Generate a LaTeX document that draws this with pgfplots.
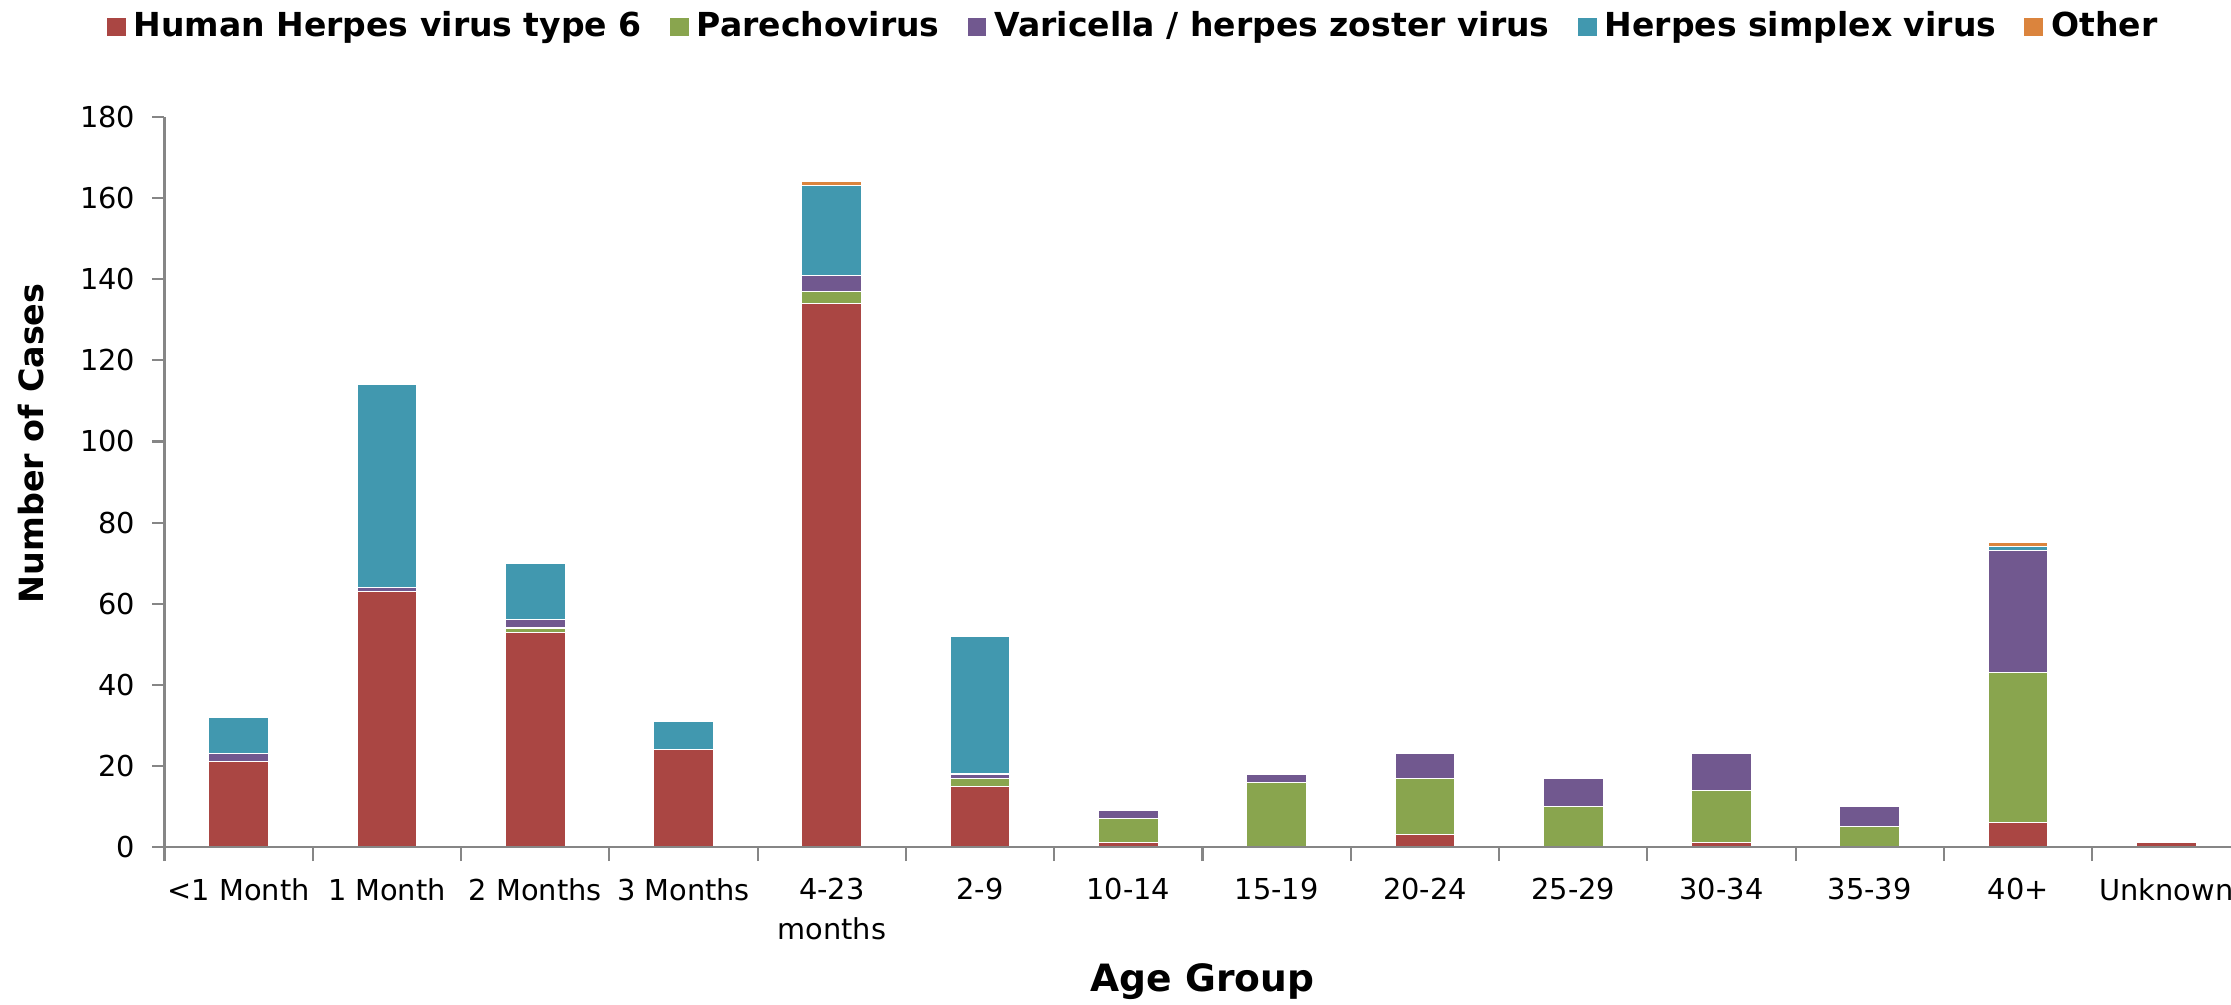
\documentclass[border=0pt]{standalone}
\usepackage{fontspec}
\setmainfont{DejaVu Sans}
\usepackage{pgfplots}
\pgfplotsset{compat=1.18}
\usepackage{pgfplotstable}

\definecolor{hhv}{HTML}{AA4643}
\definecolor{pare}{HTML}{89A54E}
\definecolor{vzv}{HTML}{71588F}
\definecolor{hsv}{HTML}{4198AF}
\definecolor{oth}{HTML}{DB843D}
\definecolor{axgray}{HTML}{868686}

% columns: x, HHV-6, Parechovirus, VZV, HSV, Other
\pgfplotstableread{
x  hhv pare vzv hsv oth
0  21  0    2   9   0
1  63  0    1   50  0
2  53  1    2   14  0
3  24  0    0   7   0
4  134 3    4   22  1
5  15  2    1   34  0
6  1   6    2   0   0
7  0   16   2   0   0
8  3   14   6   0   0
9  0   10   7   0   0
10 1   13   9   0   0
11 0   5    5   0   0
12 6   37   30  1   1
13 1   0    0   0   0
}\cases

\begin{document}
\begin{tikzpicture}
  \begin{axis}[
    name = ax,
    scale only axis,
    width  = 20.76cm,
    height = 7.30cm,
    ybar stacked,
    bar width = 0.598cm,
    xmin = -0.5, xmax = 13.5,
    ymin = 0, ymax = 180,
    xtick = {0,...,13},
    xticklabels = {{<1 Month},{1 Month},{2 Months},{3 Months},{4-23\\months},
                   {2-9},{10-14},{15-19},{20-24},{25-29},{30-34},{35-39},{40+},{Unknown}},
    minor xtick = {-0.5,0.5,...,13.5},
    ytick = {0,20,...,180},
    major x tick style = {draw=none},
    minor tick length = 0.14cm,
    major tick length = 0.12cm,
    tick align = outside,
    xtick pos = bottom,
    ytick pos = left,
    axis x line* = bottom,
    axis y line* = left,
    axis on top,
    axis line style = {axgray, line width=0.7pt},
    every tick/.style = {axgray, line width=0.6pt},
    /pgf/number format/assume math mode=true,
    xticklabel style = {font=\fontsize{8.2}{11.4}\selectfont, align=center, yshift=-0.07cm},
    yticklabel style = {font=\fontsize{8.2}{10}\selectfont, xshift=-0.05cm},
    xlabel = {Age Group},
    ylabel = {Number of Cases},
    xlabel style = {font=\fontsize{10.7}{12}\selectfont\bfseries,
                    at={(axis description cs:0.5,-0.185)}, anchor=center},
    ylabel style = {font=\fontsize{9.5}{11}\selectfont\bfseries,
                    at={(axis description cs:-0.0643,0.553)}, anchor=center},
    legend columns = 5,
    legend style = {at={(rel axis cs:0.4675,1.1233)}, anchor=center,
                    draw=none, fill=none,
                    font=\fontsize{9.4}{11}\selectfont\bfseries,
                    /tikz/every even column/.append style={column sep=0.2cm}},
    legend image code/.code={\fill[#1] (0cm,-0.1cm) rectangle (0.2cm,0.1cm);},
    clip = false,
  ]
    \addplot[fill=hhv, draw=white, line width=0.3pt] table[x=x, y=hhv] {\cases};
    \addlegendentry{Human Herpes virus type 6}
    \addplot[fill=pare, draw=white, line width=0.3pt] table[x=x, y=pare] {\cases};
    \addlegendentry{Parechovirus}
    \addplot[fill=vzv, draw=white, line width=0.3pt] table[x=x, y=vzv] {\cases};
    \addlegendentry{Varicella / herpes zoster virus}
    \addplot[fill=hsv, draw=white, line width=0.3pt] table[x=x, y=hsv] {\cases};
    \addlegendentry{Herpes simplex virus}
    \addplot[fill=oth, draw=white, line width=0.3pt] table[x=x, y=oth] {\cases};
    \addlegendentry{Other}
  \end{axis}
  \pgfresetboundingbox
  \path[use as bounding box] (ax.south west) ++(-1.645cm,-1.57cm) rectangle ++(22.31cm,10.04cm);
\end{tikzpicture}
\end{document}
